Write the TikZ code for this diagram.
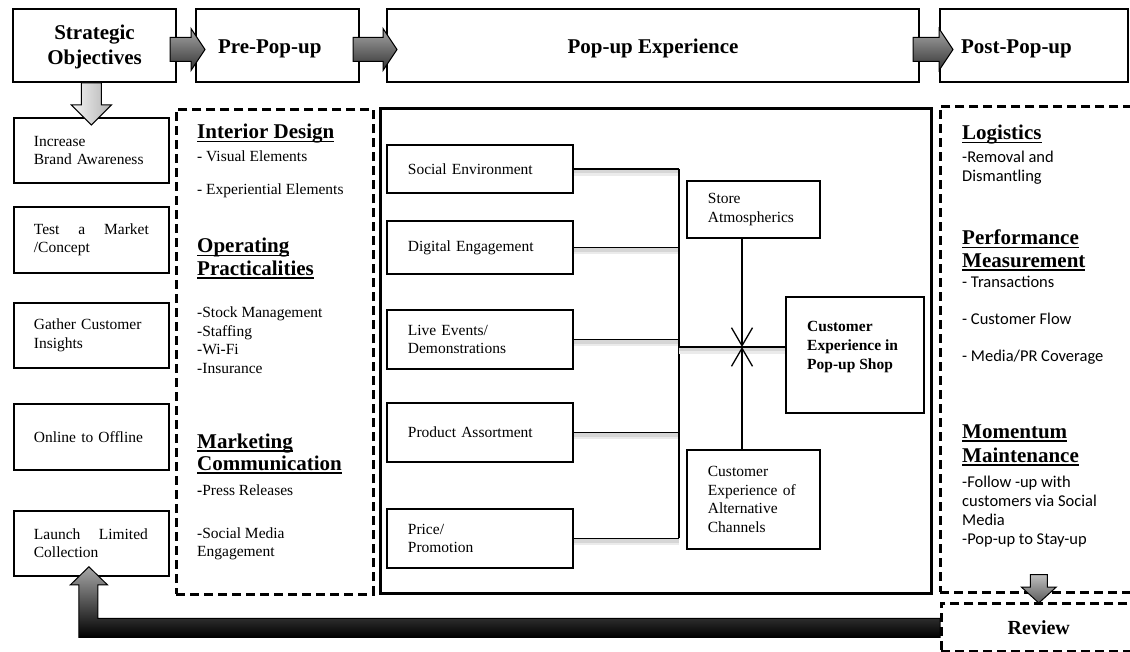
\documentclass[tikz,border=0pt]{standalone}
\usepackage{fontspec}
\setmainfont{Liberation Serif}
\newfontfamily\calibfont{Carlito}
\usetikzlibrary{arrows.meta,calc}

% lines stacked with their first baseline as reference
\newcommand\stack[1]{\begin{tabular}[t]{@{}l@{}}#1\end{tabular}}
% heavy underline for section headings
\newcommand\hdul[1]{\setbox0=\hbox{#1}\rlap{\rule[-3.5pt]{\wd0}{1.7pt}}\box0}
% block arrow pointing right: tail, tip, body half-width, head half-width, head length, style
\newcommand\hfat[6]{\path[#6] let \p1=(#1), \p2=(#2) in
  (\x1,\y1+#3) -- (\x2-#5,\y1+#3) -- (\x2-#5,\y1+#4) -- (\x2,\y1) --
  (\x2-#5,\y1-#4) -- (\x2-#5,\y1-#3) -- (\x1,\y1-#3) -- cycle;}
% block arrow pointing down
\newcommand\vfat[6]{\path[#6] let \p1=(#1), \p2=(#2) in
  (\x1-#3,\y1) -- (\x1-#3,\y2+#5) -- (\x1-#4,\y2+#5) -- (\x1,\y2) --
  (\x1+#4,\y2+#5) -- (\x1+#3,\y2+#5) -- (\x1+#3,\y1) -- cycle;}

\newcommand\fsnorm{\fontsize{15.5}{18.5}\selectfont}
\newcommand\fsbig{\fontsize{21}{25}\selectfont\bfseries}

\tikzset{
  tb/.style={draw, line width=2pt, fill=white, anchor=north west, inner sep=0pt, font=\fsbig},
  sb/.style={draw, line width=1.8pt, fill=white, anchor=north west, inner ysep=0pt,
             inner xsep=20pt, align=left, font=\fsnorm},
  dbox/.style={draw, line width=2.6pt, dash pattern=on 9pt off 5pt, anchor=north west, inner sep=0pt},
  hd/.style={anchor=base west, inner sep=0pt, font=\fontsize{21}{22.5}\selectfont\bfseries},
  itm/.style={anchor=base west, inner sep=0pt, font=\fsnorm},
  citm/.style={anchor=base west, inner sep=0pt, font=\calibfont\fontsize{16.5}{19}\selectfont},
  conn/.style={line width=1.6pt,
    preaction={draw=black!8, line width=7pt, transform canvas={yshift=-3.5pt}},
    preaction={draw=black!16, line width=3.5pt, transform canvas={yshift=-2.5pt}}},
  vline/.style={line width=1.3pt},
  fatdark/.style={draw=black, line width=1pt, top color=black!35, middle color=black!50, bottom color=black!80},
  fatlight/.style={draw=black, line width=1pt, left color=black!4, right color=black!30},
  fatmid/.style={draw=black, line width=1pt, top color=black!25, bottom color=black!65},
  bigret/.style={draw=black, line width=1pt, top color=black!35, bottom color=black},
}

\begin{document}
\begin{tikzpicture}[x=1pt,y=-1pt]
\useasboundingbox (0,0) rectangle (1130,652);

% ---- phase headers ----
\node[tb, minimum width=163pt, minimum height=73pt, align=center] (so) at (12,8) {\rule{0pt}{18pt}Strategic\\Objectives};
\node[tb, minimum width=163pt, minimum height=73pt, text width=119pt, text height=20pt, inner xsep=22pt, align=left] (pre) at (195,8) {Pre-Pop-up};
\node[tb, minimum width=532pt, minimum height=73pt, text height=20pt, align=center] (popx) at (386,8) {Pop-up Experience};
\node[tb, minimum width=188pt, minimum height=73pt, text width=146pt, text height=20pt, inner xsep=21pt, align=left] (postx) at (939,8) {Post-Pop-up};

% ---- strategic objectives ----
\node[sb, minimum width=155pt, text width=115pt, minimum height=65pt] (inc) at (13,117) {Increase\\Brand Awareness};
\node[sb, minimum width=155pt, text width=115pt, minimum height=66pt] (tst) at (13,206) {\hbox to 115pt{Test\hfill a\hfill Market}\\/Concept};
\node[sb, minimum width=155pt, text width=115pt, minimum height=65pt] (gat) at (13,302) {Gather Customer\\Insights};
\node[sb, minimum width=155pt, text width=115pt, minimum height=66pt] (onl) at (13,403) {Online to Offline};
\node[sb, minimum width=155pt, text width=115pt, minimum height=65pt] (lau) at (13,510) {\hbox to 114pt{Launch\hfill Limited}\\Collection};

% ---- pre-pop-up column ----
\node[dbox, minimum width=197pt, minimum height=485pt] (prebox) at (175,108) {};
\node[hd] (h-int) at (197,139) {\hdul{Interior Design}};
\node[itm] (i-vis) at (197,162) {- Visual Elements};
\node[itm] (i-exp) at (197,195) {- Experiential Elements};
\node[hd] (h-op) at (197,253) {\stack{\hdul{Operating}\\\hdul{Practicalities}}};
\node[itm] (i-op) at (197,318) {\stack{-Stock Management\\-Staffing\\-Wi-Fi\\-Insurance}};
\node[hd] (h-mk) at (197,448) {\stack{\hdul{Marketing}\\\hdul{Communication}}};
\node[itm] (i-pr) at (197,495) {{\bfseries -}Press Releases};
\node[itm] (i-sm) at (197,538) {\stack{-Social Media\\Engagement}};

% ---- pop-up experience ----
\node[draw, line width=3pt, anchor=north west, inner sep=0pt, minimum width=551pt, minimum height=485pt] (popbox) at (379,107) {};
\node[sb, minimum width=186pt, text width=144pt, inner xsep=21pt, minimum height=48pt] (se) at (386,144) {Social Environment};
\node[sb, minimum width=186pt, text width=144pt, inner xsep=21pt, minimum height=53pt] (de) at (386,220) {Digital Engagement};
\node[sb, minimum width=186pt, text width=144pt, inner xsep=21pt, minimum height=59pt] (le) at (386,309) {Live Events/\\Demonstrations};
\node[sb, minimum width=186pt, text width=144pt, inner xsep=21pt, minimum height=59pt] (pa) at (386,402) {Product Assortment};
\node[sb, minimum width=186pt, text width=144pt, inner xsep=21pt, minimum height=59pt] (pp) at (386,508) {Price/\\Promotion};
\node[sb, minimum width=133pt, text width=91pt, inner xsep=21pt, minimum height=57pt] (sa) at (686,180) {Store\\Atmospherics};
\node[sb, minimum width=133pt, text width=91pt, inner xsep=21pt, minimum height=99pt] (alt) at (686,449) {Customer\\Experience of\\Alternative\\Channels};
\node[draw, line width=1.8pt, fill=white, anchor=north west, inner sep=0pt, minimum width=138pt, minimum height=116pt] (shop) at (785,296) {};
\node[anchor=base west, inner sep=0pt, font=\fsnorm\bfseries] (shop-t) at (807,332) {\stack{Customer\\Experience in\\Pop-up Shop}};

% ---- drivers bus ----
\coordinate (bus) at (679,347);
\coordinate (jx) at (742,347);
\draw[conn] (se.east) -- (se.east -| bus);
\draw[conn] (de.east) -- (de.east -| bus);
\draw[conn] (le.east) -- (le.east -| bus);
\draw[conn] (pa.east) -- (pa.east -| bus);
\draw[conn] (pp.east) -- (pp.east -| bus);
\draw[line width=1.6pt] (se.east -| bus) -- (pp.east -| bus);
\draw[conn] (bus) -- (bus -| shop.west);
\draw[vline, -{Straight Barb[length=18pt,width=21pt,line width=1.3pt]}] (jx |- sa.south) -- (jx);
\draw[vline, -{Straight Barb[length=18pt,width=21pt,line width=1.3pt]}] (jx |- alt.north) -- (jx);

% ---- post-pop-up column ----
\node[dbox, minimum width=196pt, minimum height=486pt] (postbox) at (939,105) {};
\node[hd] (h-log) at (962,140) {\hdul{Logistics}};
\node[citm] (i-log) at (962,163) {\stack{-Removal and\\Dismantling}};
\node[hd] (h-perf) at (962,245) {\stack{\hdul{Performance}\\\hdul{Measurement}}};
\node[citm] (i-tr) at (962,288) {- Transactions};
\node[citm] (i-cf) at (962,325) {- Customer Flow};
\node[citm] (i-me) at (962,362) {- Media/PR Coverage};
\node[hd] (h-mom) at (962,438) {\stack{\hdul{Momentum}\\[1.5pt]\hdul{Maintenance}}};
\node[citm] (i-mom) at (962,487) {\stack{-Follow -up with\\customers via Social\\Media\\-Pop-up to Stay-up}};

% ---- review ----
\node[dbox, fill=white, minimum width=195pt, minimum height=48pt, font=\fontsize{20}{24}\selectfont\bfseries] (rev) at (940,602) {Review};

% ---- block arrows ----
\hfat{$(so.east)+(-7,4)$}{$(pre.west)+(10,0)$}{12pt}{21pt}{14pt}{fatdark}
\hfat{$(pre.east)+(-7,4)$}{$(popx.west)+(11,0)$}{12pt}{21pt}{14pt}{fatdark}
\hfat{$(postx.west)+(-26,4)$}{$(postx.west)+(14,0)$}{12pt}{21pt}{14pt}{fatdark}
\vfat{$(so.south -| inc.north)$}{$(inc.north)+(0,8)$}{10pt}{20pt}{20pt}{fatlight}
\vfat{$(postbox.south -| rev.north)+(0,-19)$}{$(rev.north)+(0,1)$}{8.5pt}{17.5pt}{16pt}{fatmid}

% return arrow from review back to the objectives
\path[bigret] let \p1=(rev.west), \p2=(lau.south) in
  (\x1,\y1+9pt) -- (\x2+6.5pt,\y1+9pt) -- (\x2+6.5pt,\y2-8pt) -- (\x2+16pt,\y2-8pt) --
  (\x2-2.5pt,\y2+10pt) -- (\x2-21pt,\y2-8pt) -- (\x2-12.5pt,\y2-8pt) --
  (\x2-12.5pt,\y1-10pt) -- (\x1,\y1-10pt) -- cycle;
\end{tikzpicture}
\end{document}
